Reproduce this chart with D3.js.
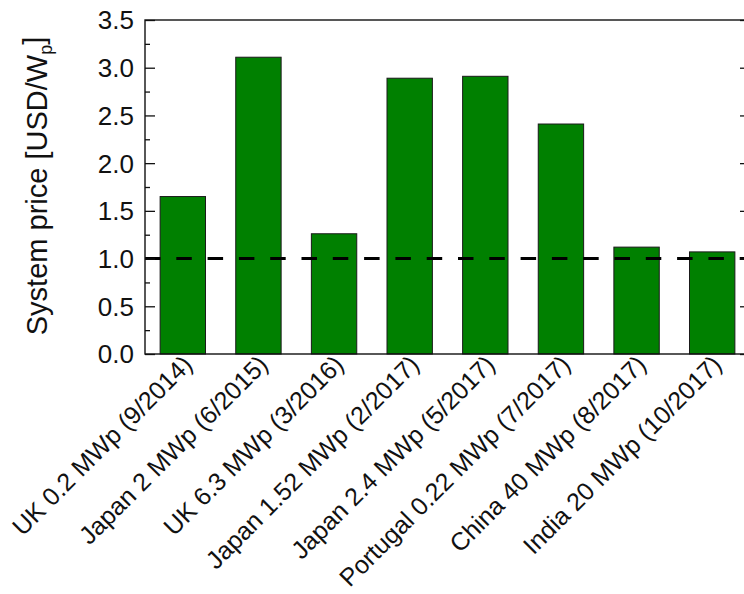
<!DOCTYPE html>
<html lang="en">
<head>
  <meta charset="UTF-8">
  <title>System price</title>
  <script src="https://d3js.org/d3.v7.min.js"></script>
  <style>
    body { margin: 0; background: #fff; }
    text { font-family: Arial, "Liberation Sans", sans-serif; fill: #111; }
  </style>
</head>
<body>
  <script>
    const projects = [
      "UK 0.2 MWp (9/2014)",
      "Japan 2 MWp (6/2015)",
      "UK 6.3 MWp (3/2016)",
      "Japan 1.52 MWp (2/2017)",
      "Japan 2.4 MWp (5/2017)",
      "Portugal 0.22 MWp (7/2017)",
      "China 40 MWp (8/2017)",
      "India 20 MWp (10/2017)"
    ];
    const prices = [1.65, 3.11, 1.26, 2.89, 2.91, 2.41, 1.12, 1.07];
    const yTicks = [0, 0.5, 1.0, 1.5, 2.0, 2.5, 3.0, 3.5];
    const yMinorTicks = [0.25, 0.75, 1.25, 1.75, 2.25, 2.75, 3.25];
    const referencePrice = 1.0;

    const width = 744, height = 594;
    const plotLeft = 145, plotRight = 750, plotTop = 20, plotBottom = 354;

    let svg = d3.select("body")
      .append("svg")
      .attr("width", width)
      .attr("height", height);

    const x = d3.scaleBand()
      .domain(projects)
      .range([plotLeft, plotRight])
      .paddingInner(0.4)
      .paddingOuter(0.2);

    const y = d3.scaleLinear()
      .domain([0, 3.5])
      .range([plotBottom, plotTop]);

    // bars
    svg.selectAll(".bar")
      .data(prices)
      .enter()
      .append("rect")
      .attr("class", "bar")
      .attr("x", (d, i) => x(projects[i]))
      .attr("y", d => y(d))
      .attr("width", x.bandwidth())
      .attr("height", d => y(0) - y(d))
      .attr("fill", "#008000")
      .attr("stroke", "#1a1a1a")
      .attr("stroke-width", 1);

    // dashed 1 USD/Wp line
    svg.append("line")
      .attr("x1", plotLeft)
      .attr("x2", plotRight)
      .attr("y1", y(referencePrice))
      .attr("y2", y(referencePrice))
      .attr("stroke", "#000")
      .attr("stroke-width", 3)
      .attr("stroke-dasharray", "15.5,15.8");

    // left axis, ticks inward
    const yAxis = svg.append("g")
      .attr("transform", `translate(${plotLeft},0)`)
      .call(d3.axisRight(y).tickValues(yTicks).tickSize(10).tickFormat(""));
    yAxis.select(".domain").remove();

    const yMinor = svg.append("g")
      .attr("transform", `translate(${plotLeft},0)`)
      .call(d3.axisRight(y).tickValues(yMinorTicks).tickSize(5).tickFormat(""));
    yMinor.select(".domain").remove();

    // right axis, ticks inward
    const yRight = svg.append("g")
      .attr("transform", `translate(${plotRight},0)`)
      .call(d3.axisLeft(y).tickValues(yTicks).tickSize(10).tickFormat(""));
    yRight.select(".domain").remove();

    svg.selectAll(".tick line").attr("stroke", "#111").attr("stroke-width", 1.3);

    // tick labels
    svg.selectAll(".ylabel")
      .data(yTicks)
      .enter()
      .append("text")
      .attr("class", "ylabel")
      .attr("x", plotLeft - 11)
      .attr("y", d => y(d))
      .attr("dy", "0.36em")
      .attr("text-anchor", "end")
      .style("font-size", "26px")
      .text(d => d3.format(".1f")(d));

    // frame
    svg.append("rect")
      .attr("x", plotLeft)
      .attr("y", plotTop)
      .attr("width", plotRight - plotLeft)
      .attr("height", plotBottom - plotTop)
      .attr("fill", "none")
      .attr("stroke", "#111")
      .attr("stroke-width", 1.4);

    // category labels
    svg.selectAll(".xlabel")
      .data(projects)
      .enter()
      .append("text")
      .attr("class", "xlabel")
      .attr("text-anchor", "end")
      .attr("transform", d => `translate(${x(d) + x.bandwidth() / 2 + 11},${plotBottom + 12}) rotate(-45)`)
      .style("font-size", "25px")
      .text(d => d);

    // y title
    const title = svg.append("text")
      .attr("transform", `translate(47,186) rotate(-90)`)
      .attr("text-anchor", "middle")
      .style("font-size", "29px");
    title.append("tspan").text("System price [USD/W");
    title.append("tspan").attr("dy", "0.3em").style("font-size", "18px").text("p");
    title.append("tspan").attr("dy", "-0.3em").text("]");
  </script>
</body>
</html>
